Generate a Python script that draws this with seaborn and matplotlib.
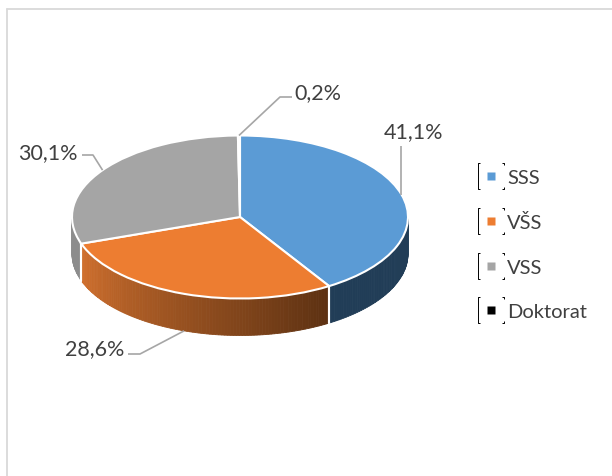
import numpy as np
import matplotlib
matplotlib.use('Agg')
import matplotlib.pyplot as plt
import seaborn as sns
from matplotlib.patches import Polygon
from matplotlib.lines import Line2D
from matplotlib.path import Path

# ---- data ----
categories = ['SSS', 'VŠS', 'VSS', 'Doktorat']
values = [41.1, 28.6, 30.1, 0.2]
labels = ['41,1%', '28,6%', '30,1%', '0,2%']
colors = ['#5B9BD5', '#ED7D31', '#A5A5A5', '#000000']

# side (wall) colours: (left colour, right colour) for gradient
side_colors = [((0.13, 0.24, 0.34), (0.13, 0.24, 0.34)),
               ((0.82, 0.44, 0.18), (0.36, 0.19, 0.07)),
               ((0.55, 0.55, 0.55), (0.55, 0.55, 0.55)),
               ((0.0, 0.0, 0.0), (0.0, 0.0, 0.0))]

sns.set_theme(style='white')
plt.rcParams['font.family'] = ['Lato', 'DejaVu Sans']
TXT = '#404040'

W, H = 612, 477
fig = plt.figure(figsize=(W / 100, H / 100), dpi=100)
fig.patch.set_facecolor('white')

# ellipse geometry in pixels
cx, cy, rx, ry = 240, 218, 168, 81.5
depth = 37 / ry  # wall depth in unit coords

ax = fig.add_axes([(cx - rx) / W, (H - cy - ry) / H, 2 * rx / W, 2 * ry / H])
wedges, _ = ax.pie(values, colors=colors, startangle=90, counterclock=False,
                   radius=1, wedgeprops=dict(edgecolor='white', linewidth=1.5))
for w in wedges:
    w.set_zorder(3)
ax.set_aspect('auto')
ax.set_xlim(-1, 1)
ax.set_ylim(-1, 1)
ax.axis('off')

# angles of slices
total = sum(values)
cum = np.concatenate([[0], np.cumsum(values)])
starts = 90 - 360 * cum[:-1] / total
ends = 90 - 360 * cum[1:] / total
mids = (starts + ends) / 2

# front walls (visible angle range [-180, 0])
for i in range(len(values)):
    a0, a1 = starts[i], ends[i]  # a0 > a1
    lo, hi = max(a1, -180), min(a0, 0)
    if hi <= lo:
        continue
    n = max(2, int((hi - lo) / 1.0))
    edges = np.linspace(hi, lo, n + 1)
    cl, cr = np.array(side_colors[i][0]), np.array(side_colors[i][1])
    for k in range(n):
        t0, t1 = np.radians(edges[k]), np.radians(edges[k + 1])
        tt = np.linspace(t0, t1, 4)
        top = np.column_stack([np.cos(tt), np.sin(tt)])
        bot = np.column_stack([np.cos(tt[::-1]), np.sin(tt[::-1]) - depth])
        f = ((edges[k] + edges[k + 1]) / 2 - a1) / (a0 - a1)  # 0 at left end
        col = cl + (cr - cl) * f
        p = Polygon(np.vstack([top, bot]), closed=True, facecolor=col,
                    edgecolor=col, linewidth=0.6, zorder=1, clip_on=False)
        ax.add_patch(p)
    # white separator lines at visible slice boundaries
    for a in (a0, a1):
        if -180 < a < 0:
            r = np.radians(a)
            ax.plot([np.cos(r), np.cos(r)], [np.sin(r), np.sin(r) - depth],
                    color='white', lw=1.5, zorder=2, clip_on=False)

# ---- overlay in pixel coordinates ----
ov = fig.add_axes([0, 0, 1, 1], zorder=5)
ov.set_xlim(0, W)
ov.set_ylim(H, 0)
ov.axis('off')
ov.patch.set_alpha(0)

# chart border
ov.plot([6.5, W], [9.5, 9.5], color='#D9D9D9', lw=1.3, clip_on=False)
ov.plot([6.5, 6.5], [9.5, H], color='#D9D9D9', lw=1.3, clip_on=False)

def to_px(x, y):
    return cx + rx * x, cy - ry * y

anchors = []
for i in range(len(values)):
    r = np.radians(mids[i])
    x, y = np.cos(r), np.sin(r)
    if -180 < mids[i] < 0 and y < -0.5:
        y = y - depth
    anchors.append(to_px(x, y))

# leader lines: (elbow, end) and text placement
leaders = [
    [(anchors[0][0], 147)],
    [(140, 355), (128, 355)],
    [(93, 156), (82, 156)],
    [(280, 98), (292, 98)],
]
text_pos = [((384, 132), 'left'), ((124, 349), 'right'),
            ((78, 153), 'right'), ((294, 93), 'left')]
for i in range(len(values)):
    pts = [anchors[i]] + leaders[i]
    ov.plot([p[0] for p in pts], [p[1] for p in pts], color='#A6A6A6',
            lw=1.2, solid_capstyle='butt')
    (tx, ty), ha = text_pos[i]
    ov.text(tx, ty, labels[i], ha=ha, va='center', fontsize=15.5, color=TXT)

# ---- legend ----
bracket = Path(
    [(-0.4, 0.5), (-0.5, 0.5), (-0.5, -0.5), (-0.4, -0.5),
     (0.4, 0.5), (0.5, 0.5), (0.5, 0.4),
     (0.4, -0.5), (0.5, -0.5), (0.5, -0.4)],
    [Path.MOVETO, Path.LINETO, Path.LINETO, Path.LINETO,
     Path.MOVETO, Path.LINETO, Path.LINETO,
     Path.MOVETO, Path.LINETO, Path.LINETO])
handles = []
for c in colors:
    br = Line2D([], [], marker=bracket, markersize=19, markerfacecolor='none',
                markeredgecolor='black', markeredgewidth=0.7, linestyle='none')
    sq = Line2D([], [], marker='s', markersize=6, markerfacecolor=c,
                markeredgecolor='none', linestyle='none')
    handles.append((br, sq))
leg = ov.legend(handles, categories, loc='center left',
                bbox_to_anchor=(478 / W, (H - 245.5) / H),
                bbox_transform=fig.transFigure, frameon=False,
                fontsize=14.5, labelspacing=1.35, handlelength=1.3,
                handletextpad=0.15, borderpad=0, borderaxespad=0)
for t in leg.get_texts():
    t.set_color(TXT)

fig.savefig('out.png', dpi=100, facecolor='white')
